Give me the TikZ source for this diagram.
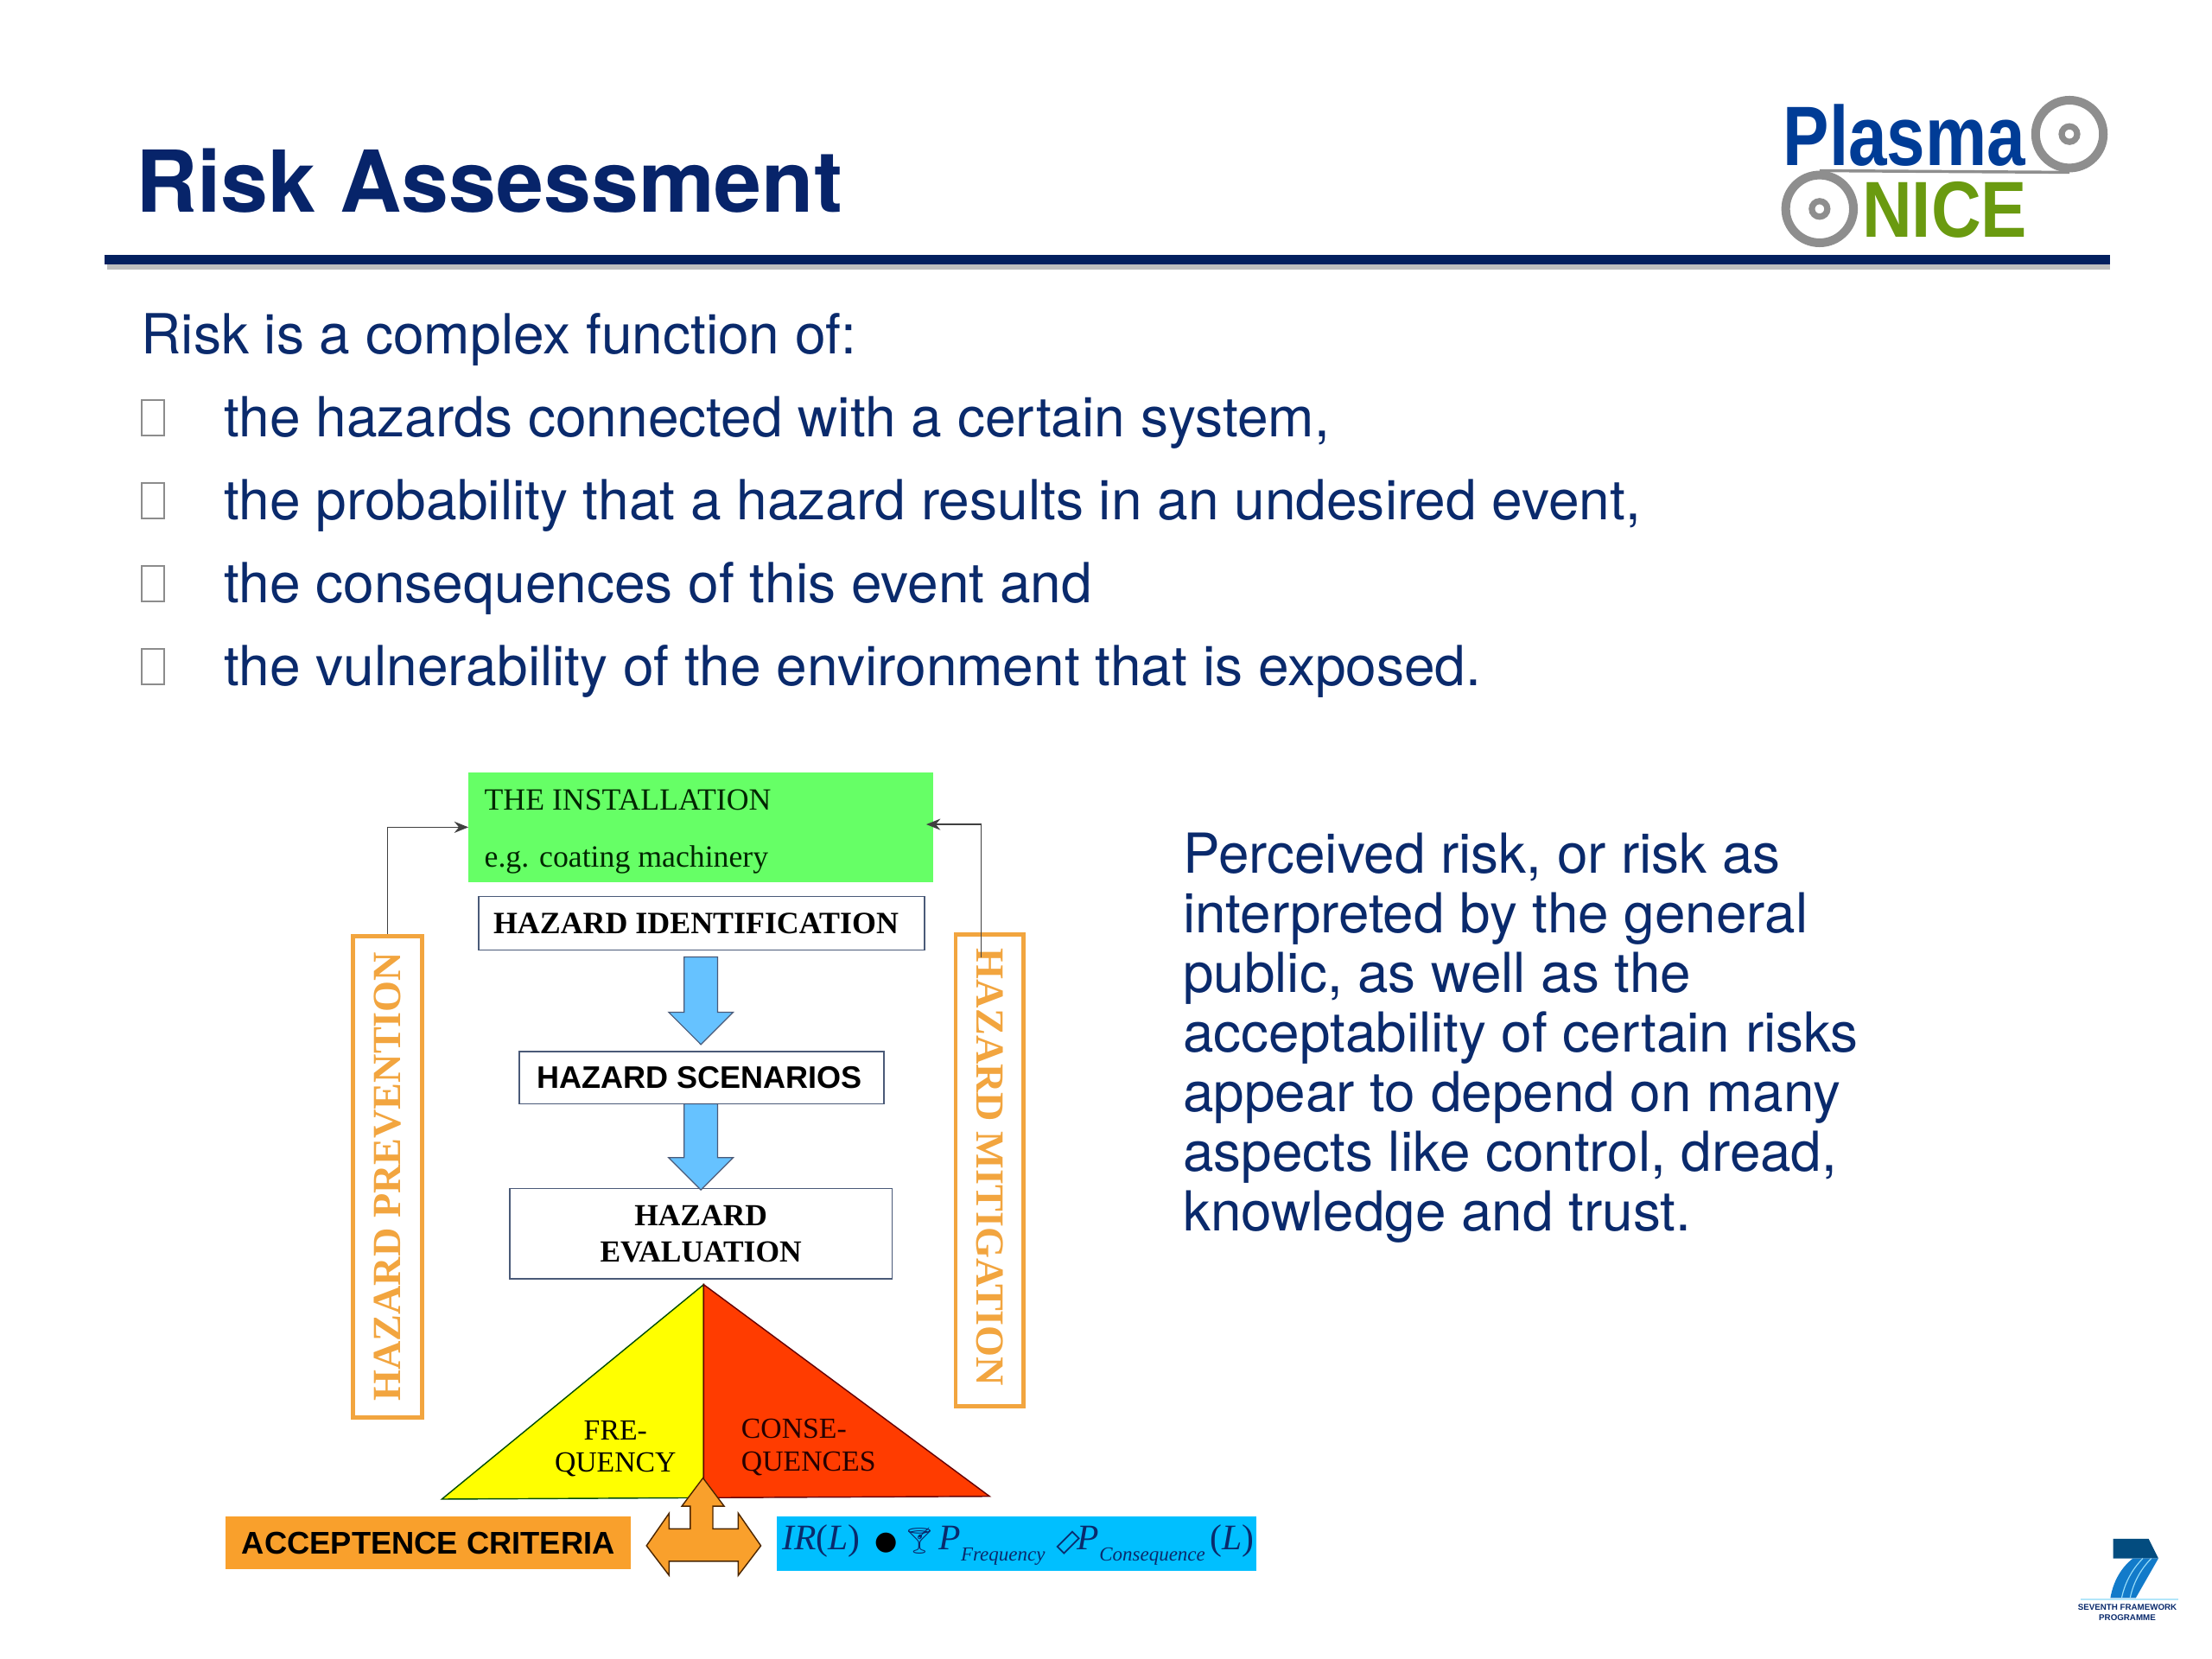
\documentclass[tikz,border=0pt]{standalone}
\usepackage{fontspec}
\setmainfont{TeX Gyre Heros}
\newfontfamily\timesFont{Liberation Serif}
\newfontfamily\arialFont{Liberation Sans}
\newfontfamily\dejavuFont{DejaVu Sans}
\newfontfamily\emojiFont{Noto Emoji}
\usetikzlibrary{positioning}
\usetikzlibrary{arrows.meta}
\usetikzlibrary{calc, shapes, shapes.arrows}
\definecolor{navyText}{HTML}{0A2A6C}
\definecolor{titleBlue}{HTML}{07246A}
\definecolor{ruleBlue}{HTML}{04205F}
\definecolor{hazOrange}{HTML}{F2A53F}
\definecolor{installGreen}{HTML}{66FF66}
\definecolor{arrowBlue}{HTML}{66C2FF}
\definecolor{triYellow}{HTML}{FFFF00}
\definecolor{triRed}{HTML}{FF3C00}
\definecolor{critOrange}{HTML}{F9A02C}
\definecolor{irBlue}{HTML}{00BFFF}
\definecolor{boxEdge}{HTML}{4A5A78}
\definecolor{wheelGray}{HTML}{8E8E8E}
\newcommand{\du}{0.04cm}
\newcommand{\lowSub}[1]{\raisebox{-9pt}{\fontsize{16pt}{18pt}\selectfont\textit{#1}}}
\tikzset{%
	% Specifications for style of nodes:
	base/.style = {inner sep=0pt, text=navyText},
	slideLine/.style = {base, anchor=base west, font=\fontsize{44.6pt}{50pt}\selectfont},
	slideBullet/.style = {rectangle, draw=black!45, line width=1.2pt, minimum width=16*\du, minimum height=25*\du, inner sep=0pt},
	hazBox/.style = {rectangle, draw=boxEdge, line width=1.2pt, fill=white, inner sep=0pt, align=center, text=black},
	hazSide/.style = {rectangle, draw=hazOrange, line width=3.4pt, fill=white, inner sep=0pt, text=hazOrange, font=\fontsize{32.2pt}{36pt}\selectfont\timesFont\bfseries},
	blockDown/.style = {single arrow, shape border rotate=270, draw=boxEdge, line width=0.8pt, fill=arrowBlue, inner sep=11.5*\du, single arrow head extend=11*\du, single arrow tip angle=90, single arrow head indent=0pt},
	triText/.style = {inner sep=0pt, font=\fontsize{23.5pt}{26.4pt}\selectfont\timesFont},
	wheel/.style = {circle, draw=wheelGray, line width=7pt, minimum size=48*\du, inner sep=0pt},
	hub/.style = {circle, draw=wheelGray, line width=5pt, minimum size=11*\du, inner sep=0pt},
	sideLink/.style = {-{Stealth[length=10*\du, width=8*\du]}, black!75, line width=1.1pt}
}

\begin{document}
\begin{tikzpicture}[x=\du, y=-\du]
	\useasboundingbox (0,0) rectangle (1567,1175.25);
	% header
	\node (title) [base, anchor=base west, text=titleBlue, font=\fontsize{68.8pt}{72pt}\selectfont\bfseries] at (96,150) {Risk Assessment};
	\draw[black!25, line width=5pt] (76,189) -- (1495,189);
	\draw[ruleBlue, line width=7.5pt] (74,184) -- (1495,184);
	% logo
	\node (logoPlasma) [anchor=base west, inner sep=0pt, text={rgb,255:red,0;green,60;blue,150}, font=\fontsize{68pt}{70pt}\selectfont\arialFont\bfseries] at (1263,117) {\scalebox{0.82}[1]{Plasma}};
	\node (logoNice) [anchor=base west, inner sep=0pt, text={rgb,255:red,106;green,154;blue,16}, font=\fontsize{64pt}{70pt}\selectfont\arialFont\bfseries] at (1319,168) {\scalebox{0.87}[1]{NICE}};
	\node (wheelRight) [wheel] at (1466,95) {};
	\node (wheelLeft) [wheel] at (1289,148) {};
	\node (hubRight) [hub] at (wheelRight) {};
	\node (hubLeft) [hub] at (wheelLeft) {};
	\draw[wheelGray, line width=2.4pt] (wheelLeft.north) -- (wheelRight.south);
	% bullets
	\node (lead) [slideLine] at (100,250.5) {Risk is a complex function of:};
	\foreach \name/\ypos/\words in {lineA/309.5/{the hazards connected with a certain system,},
		lineB/368.2/{the probability that a hazard results in an undesired event,},
		lineC/426.9/{the consequences of this event and},
		lineD/485.6/{the vulnerability of the environment that is exposed.}} {
		\node (\name) [slideLine] at (158.5,\ypos) {\words};
		\node (\name Mark) [slideBullet] at (108.5,\ypos-13.5) {};
	}
	% side text
	\node (perceived) [base, anchor=base west, align=left, font=\fontsize{44.45pt}{48.1pt}\selectfont] at (838,872) {Perceived risk, or risk as\\interpreted by the general\\public, as well as the\\acceptability of certain risks\\appear to depend on many\\aspects like control, dread,\\knowledge and trust.};
	% flow
	\node (install) [rectangle, fill=installGreen, minimum width=329*\du, minimum height=78*\du, inner sep=0pt] at (496.5,586) {};
	\node (installText) [anchor=base west, inner sep=0pt, align=left, text=black!85!green, font=\fontsize{24.9pt}{46pt}\selectfont\timesFont] at (343,614) {THE INSTALLATION\\e.g. coating machinery};
	\node (hazId) [hazBox, minimum width=316*\du, minimum height=38*\du, font=\fontsize{25pt}{28pt}\selectfont\timesFont\bfseries] at (497,654) {\hspace*{-9pt}HAZARD IDENTIFICATION};
	\node (hazScen) [hazBox, minimum width=258*\du, minimum height=37*\du, font=\fontsize{25.1pt}{28pt}\selectfont\arialFont\bfseries] at (497,763.5) {\hspace*{-3pt}HAZARD SCENARIOS};
	\node (hazEval) [hazBox, minimum width=271*\du, minimum height=64*\du, font=\fontsize{24.7pt}{29.6pt}\selectfont\timesFont\bfseries] at (496.5,874) {HAZARD\\EVALUATION};
	\node (blockA) [blockDown, minimum height=62*\du] at (496.5,703) {};
	\node (blockB) [blockDown, minimum height=61*\du] at (496.5,806.5) {};
	\node (hazPrev) [hazSide, rotate=90, minimum width=341*\du, minimum height=49*\du] at (274.5,833.5) {HAZARD PREVENTION};
	\node (hazMit) [hazSide, rotate=-90, minimum width=334*\du, minimum height=48*\du] at (701,829) {\hspace*{-4.5pt}HAZARD MITIGATION};
	\draw[sideLink] (hazPrev.east) |- (install.west);
	\draw[sideLink] ([shift={(-6*\du,-18*\du)}]hazMit.west) |- ([shift={(-5*\du,2*\du)}]install.east);
	% triangle
	\coordinate (triApex) at (498.5,910);
	\coordinate (triLeft) at (313,1062);
	\coordinate (triRight) at (701,1060);
	\coordinate (triFoot) at (498.5,1061);
	\draw[fill=triYellow, draw=black!70!green, line width=1pt] (triApex) -- (triLeft) -- (triFoot) -- cycle;
	\draw[fill=triRed, draw=black!60!red, line width=1pt] (triApex) -- (triRight) -- (triFoot) -- cycle;
	\node (freq) [triText, anchor=base, align=center] at (436,1043) {FRE-\\QUENCY};
	\node (cons) [triText, anchor=base west, align=left, text=black!85!red] at (525,1042) {CONSE-\\QUENCES};
	% criteria
	\node (criteria) [rectangle, fill=critOrange, minimum width=287*\du, minimum height=37*\du, inner sep=0pt, text=black, font=\fontsize{25.3pt}{28pt}\selectfont\arialFont\bfseries] at (303.5,1093) {ACCEPTENCE CRITERIA};
	\node (irBox) [rectangle, fill=irBlue, minimum width=340*\du, minimum height=39*\du, inner sep=0pt] at (720,1093.5) {};
	\node (irText) [anchor=base west, inner sep=0pt, text=navyText, font=\fontsize{29pt}{30pt}\selectfont\timesFont] at (554,1098) {\textit{IR}(\textit{L})\hspace{12pt}{\fontsize{21pt}{28pt}\selectfont\dejavuFont\color{black}●}\hspace{4pt}{\fontsize{21pt}{28pt}\selectfont\emojiFont🍸}\hspace{2.5pt}\textit{P}\lowSub{Frequency}\hspace{7.5pt}\raisebox{-7pt}{\rotatebox{45}{\fontsize{24pt}{28pt}\selectfont\dejavuFont▭}}\hspace{-5pt}\textit{P}\lowSub{Consequence}\hspace{4pt}(\textit{L})};
	% double arrow
	\draw[fill=critOrange, draw=black!70!orange, line width=1pt] (498,1047) -- (513,1067) -- (505,1067) -- (505,1083) -- (523,1083) -- (523,1072) -- (539,1095) -- (523,1116) -- (523,1106) -- (474,1106) -- (474,1116) -- (458,1095) -- (474,1072) -- (474,1083) -- (489,1083) -- (489,1067) -- (483,1067) -- cycle;
	% programme mark
	\fill[ruleBlue!80!cyan] (1497,1090) -- (1522,1090) -- (1529,1104) -- (1497,1104) -- cycle;
	\fill[cyan!60!blue] (1529,1104) -- (1513,1132) -- (1495,1132) .. controls (1497,1120) and (1503,1110) .. (1511,1104) -- cycle;
	\draw[white!60!cyan, line width=0.8pt] (1518,1104) .. controls (1510,1112) and (1505,1122) .. (1503,1132);
	\draw[white!60!cyan, line width=0.8pt] (1524,1104) .. controls (1516,1112) and (1511,1122) .. (1509,1132);
	\draw[cyan!30, line width=1pt] (1474,1133) -- (1543,1133);
	\node (fpText) [anchor=north, inner sep=0pt, align=center, text=navyText, font=\fontsize{6.8pt}{9pt}\selectfont\arialFont\bfseries] at (1507,1136) {SEVENTH FRAMEWORK\\PROGRAMME};
\end{tikzpicture}
\end{document}
